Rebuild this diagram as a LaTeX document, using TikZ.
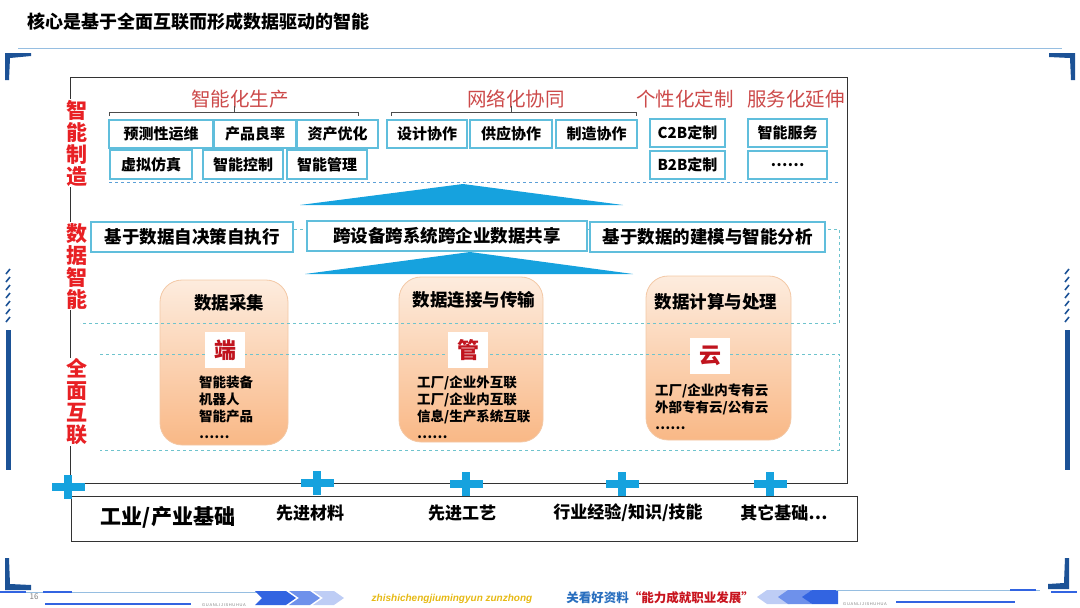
\documentclass[tikz,border=0pt]{standalone}
\usepackage{fontspec}
\setmainfont{Noto Sans CJK SC}
\newfontfamily\latinfont{Liberation Sans}
\usetikzlibrary{positioning,calc}
\definecolor{labelred}{RGB}{232,32,36}
\definecolor{headred}{RGB}{204,74,74}
\definecolor{itemblue}{RGB}{96,190,220}
\definecolor{arrowcyan}{RGB}{22,162,222}
\definecolor{dashblue}{RGB}{92,160,215}
\definecolor{dashteal}{RGB}{110,195,205}
\definecolor{peach}{RGB}{253,236,222}
\definecolor{apricot}{RGB}{249,184,134}
\definecolor{rimorange}{RGB}{243,200,165}
\definecolor{charred}{RGB}{192,20,30}
\definecolor{navy}{RGB}{28,82,150}
\definecolor{barblue}{RGB}{50,100,225}
\definecolor{midblue}{RGB}{110,145,235}
\definecolor{paleblue}{RGB}{190,205,245}
\definecolor{ruleblue}{RGB}{150,190,225}
\definecolor{mottoyellow}{RGB}{230,185,20}
\definecolor{mottoblue}{RGB}{40,110,190}
\definecolor{mottored}{RGB}{200,20,30}

\begin{document}
\begin{tikzpicture}[x=1pt,y=-1pt,
  item/.style={draw=itemblue,line width=1.1pt,fill=white,inner sep=0pt,
    minimum height=28pt,font=\fontsize{15}{15}\selectfont\bfseries},
  wide/.style={item,minimum height=30pt,font=\fontsize{17.5}{17.5}\selectfont\bfseries},
  side/.style={fill=white,text=labelred,align=center,inner sep=1pt,
    font=\fontsize{21}{22}\selectfont\bfseries},
  head/.style={text=headred,font=\fontsize{19.5}{19.5}\selectfont},
  brace/.style={black!70,line width=0.9pt},
  layer/.style={rounded corners=22pt,draw=rimorange,line width=0.8pt,
    top color=peach,bottom color=apricot},
  stage/.style={font=\fontsize{17.5}{17.5}\selectfont\bfseries},
  tag/.style={fill=white,text=charred,minimum width=40pt,minimum height=36pt,
    font=\fontsize{22}{22}\selectfont\bfseries},
  list/.style={anchor=north west,align=left,inner sep=0pt,
    font=\fontsize{13.5}{16.8}\selectfont\bfseries},
  zone/.style={dashteal,dashed,line width=0.9pt},
  base/.style={font=\fontsize{17}{17}\selectfont\bfseries}
]
\useasboundingbox (0,0) rectangle (1080,608);

\node[anchor=west,font=\fontsize{18}{18}\selectfont\bfseries] (title) at (24,22) {核心是基于全面互联而形成数据驱动的智能};
\draw[ruleblue,line width=1pt] (18,48) -- (1062,48);

\fill[navy] (5,53) -- (31,53) -- (31,56) -- (10,58) -- (9,80) -- (5,80) -- cycle;
\fill[navy] (1049,53) -- (1075,53) -- (1075,80) -- (1071,80) -- (1070,58) -- (1049,57) -- cycle;
\fill[navy] (5,558) -- (9,558) -- (10,584) -- (31,585) -- (31,590) -- (5,590) -- cycle;
\fill[navy] (1065,558) -- (1069,558) -- (1069,589) -- (1048,589) -- (1048,584) -- (1064,583) -- cycle;
\foreach \sx in {8,1067} {
  \foreach \hy in {271,279,...,323}
    \draw[navy,line width=1.6pt] (\sx-2,\hy+3) -- (\sx+2,\hy-2);
  \fill[navy] (\sx-2.5,330) rectangle (\sx+2.5,470);
}

\draw[black!80,line width=0.9pt] (70,77) rectangle (847,483);

\node[side] (made) at (77,143) {智\\能\\制\\造};
\node[side] (datai) at (77,266) {数\\据\\智\\能};
\node[side] (link) at (77,402) {全\\面\\互\\联};

\node[head] (prod) at (240,99) {智能化生产};
\node[head] (net) at (516,99) {网络化协同};
\node[head] (custom) at (685,99) {个性化定制};
\node[head] (serv) at (796,99) {服务化延伸};
\draw[brace] (109,116) -- (109,112) -- (358,112) -- (358,116);
\draw[brace] (234,112) -- (234,106);
\draw[brace] (391,116) -- (391,112) -- (636,112) -- (636,116);
\draw[brace] (511,112) -- (511,106);

\node[item,minimum width=104pt] (predict) at (161,134) {预测性运维};
\node[item,minimum width=82pt] (yield) at (255,134) {产品良率};
\node[item,minimum width=81pt] (asset) at (337.5,134) {资产优化};
\node[item,minimum width=80pt] (design) at (427,134) {设计协作};
\node[item,minimum width=82pt] (supply) at (511,134) {供应协作};
\node[item,minimum width=81pt] (mfgco) at (596.5,134) {制造协作};
\node[item,minimum width=75pt] (ctob) at (687.5,133) {C2B定制};
\node[item,minimum width=79pt] (service) at (787.5,133) {智能服务};
\node[item,minimum width=82pt,minimum height=29pt] (virtual) at (151,164.5) {虚拟仿真};
\node[item,minimum width=80pt,minimum height=29pt] (control) at (243,164.5) {智能控制};
\node[item,minimum width=80pt,minimum height=29pt] (manage) at (327,164.5) {智能管理};
\node[item,minimum width=75pt] (btob) at (687.5,165) {B2B定制};
\node[item,minimum width=79pt] (more) at (787.5,165) {……};
\draw[dashblue,dashed,line width=0.9pt] (109,182) -- (840,182);

\fill[arrowcyan] (463,184) -- (623,205) -- (300,205) -- cycle;

\draw[layer] (160,280) rectangle (288,445);
\draw[layer] (399,277) rectangle (543,442);
\draw[layer] (646,276) rectangle (791,440);
\node[stage] (collect) at (229,303) {数据采集};
\node[stage] (transfer) at (474,300) {数据连接与传输};
\node[stage] (compute) at (716,302) {数据计算与处理};

\draw[zone] (90,229) -- (839,229) -- (839,323) -- (80,323);
\draw[zone] (100,354) -- (839,354) -- (839,450) -- (100,450);

\node[wide,minimum width=202pt] (selfexec) at (192,237) {基于数据自决策自执行};
\node[wide,minimum width=280pt] (share) at (447,236) {跨设备跨系统跨企业数据共享};
\node[wide,minimum width=235pt] (model) at (707.5,237) {基于数据的建模与智能分析};

\fill[arrowcyan] (470,252) -- (633,274) -- (305,274) -- cycle;

\node[tag] (endtag) at (225,350) {端};
\node[tag] (pipetag) at (468,350) {管};
\node[tag] (cloudtag) at (710,356) {云};
\node[list] (endlist) at (199,376) {智能装备\\机器人\\智能产品\\……};
\node[list] (pipelist) at (417,376) {工厂/企业外互联\\工厂/企业内互联\\信息/生产系统互联\\……};
\node[list] (cloudlist) at (655,384) {工厂/企业内专有云\\外部专有云/公有云\\……};

\draw[black!80,line width=0.9pt] (71,496) rectangle (857,541);
\node[font=\fontsize{21}{21}\selectfont\bfseries] (industry) at (168,517) {工业/产业基础};
\node[base] (material) at (310,513) {先进材料};
\node[base] (process) at (462,513) {先进工艺};
\node[base] (knowhow) at (628,513) {行业经验/知识/技能};
\node[base] (others) at (784,513) {其它基础…};
\foreach \px/\py in {68/487,317/483,466/484,622/484,770/484} {
  \fill[arrowcyan] (\px-16.5,\py-4) rectangle (\px+16.5,\py+4);
  \fill[arrowcyan] (\px-4.3,\py-12) rectangle (\px+4.3,\py+12);
}

\draw[ruleblue,line width=0.8pt] (0,592) -- (262,592);
\draw[barblue,line width=2.5pt] (0,592) -- (26,592);
\draw[barblue,line width=2.5pt] (43,592) -- (72,592);
\draw[barblue,line width=1.8pt] (45,604) -- (191,604);
\fill[barblue] (255,591) -- (286,591) -- (296,598) -- (286,605) -- (255,605) -- (262,598) -- cycle;
\fill[midblue] (289,591) -- (310,591) -- (320,598) -- (310,605) -- (289,605) -- (299,598) -- cycle;
\fill[paleblue] (313,591) -- (334,591) -- (344,598) -- (334,605) -- (313,605) -- (323,598) -- cycle;
\fill[paleblue] (767,590) -- (790,590) -- (781,597) -- (790,604) -- (767,604) -- (757,597) -- cycle;
\fill[midblue] (788,590) -- (812,590) -- (803,597) -- (812,604) -- (788,604) -- (778,597) -- cycle;
\fill[barblue] (812,590) -- (838,590) -- (838,604) -- (812,604) -- (802,597) -- cycle;
\draw[ruleblue,line width=0.8pt] (836,590) -- (1040,590);
\draw[barblue,line width=2.5pt] (1010,590) -- (1036,590);
\draw[barblue,line width=1.8pt] (896,602) -- (1015,602);
\draw[barblue,line width=2.5pt] (1051,592) -- (1077,592);
\node[text=gray,font=\fontsize{8}{8}\selectfont] (pageno) at (34,597) {16};
\node[text=gray,font=\latinfont\fontsize{4}{4}\selectfont] (brandl) at (224,605) {G\,U\,A\,N\,L\,I\,J\,I\,S\,H\,U\,H\,U\,A};
\node[text=gray,font=\latinfont\fontsize{4}{4}\selectfont] (brandr) at (865,604) {G\,U\,A\,N\,L\,I\,J\,I\,S\,H\,U\,H\,U\,A};
\node[text=mottoyellow,font=\latinfont\itshape\bfseries\fontsize{10}{10}\selectfont] (motto) at (452,599) {zhishichengjiumingyun zunzhong};
\node[font=\fontsize{12.5}{12.5}\selectfont\bfseries] (slogan) at (660,598) {\textcolor{mottoblue}{关看好资料}\textcolor{mottored}{“能力成就职业发展”}};
\end{tikzpicture}
\end{document}
